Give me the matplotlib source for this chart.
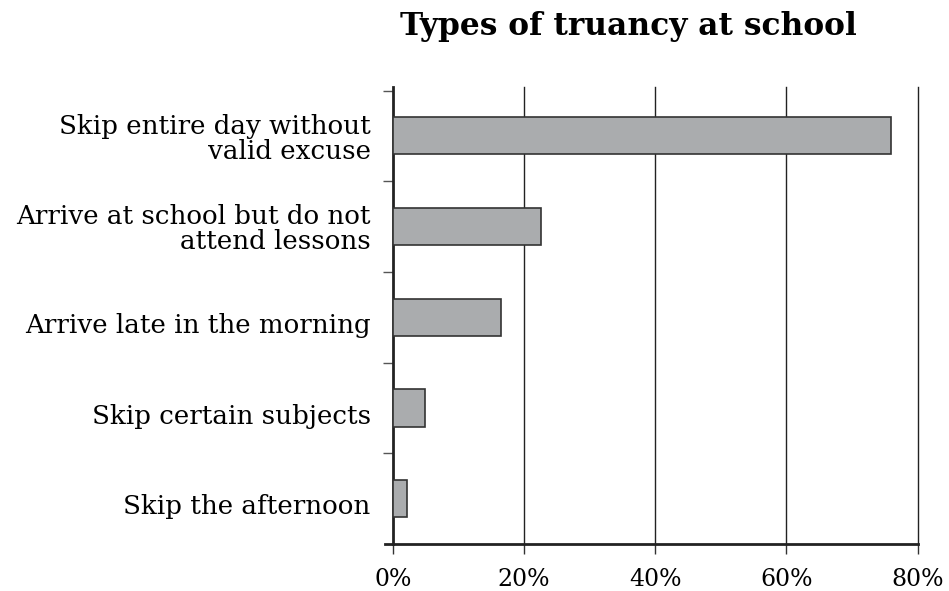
import matplotlib
matplotlib.use("Agg")
import matplotlib.pyplot as plt
import numpy as np

categories = ["Skip entire day without\nvalid excuse",
              "Arrive at school but do not\nattend lessons",
              "Arrive late in the morning",
              "Skip certain subjects",
              "Skip the afternoon"]
values = [76.0, 22.6, 16.5, 4.9, 2.2]
xticks = [0, 20, 40, 60, 80]
xticklabels = ["0%", "20%", "40%", "60%", "80%"]

plt.rcParams['font.family'] = ['DejaVu Serif']

fig = plt.figure(figsize=(9.49, 5.91), dpi=100)
ax = fig.add_axes([0.414, 0.0795, 0.553, 0.7735])

ypos = np.arange(len(categories))[::-1]
ax.barh(ypos, values, height=0.41, color='#aaacae', edgecolor='#333333', linewidth=1.2, zorder=3)

ax.set_xlim(0, 80)
ax.set_ylim(-0.5, 4.54)

ax.set_xticks(xticks)
ax.set_xticklabels(xticklabels, fontsize=17)
for xv in xticks[1:]:
    ax.axvline(xv, color='#222222', linewidth=1.0, zorder=1, clip_on=False)
ax.tick_params(axis='x', length=7, width=1, color='#333333', pad=10.5)

# category labels as text, ticks at band boundaries
ax.set_yticks([0.5, 1.5, 2.5, 3.5, 4.5])
ax.set_yticklabels([])
ax.tick_params(axis='y', length=7, width=1, color='#555555')
for y, lab in zip(ypos, categories):
    dy = -2 if '\n' in lab else -6
    ax.annotate(lab, xy=(0, y), xycoords='data', xytext=(-16, dy), textcoords='offset points',
                ha='right', va='center', fontsize=18.8, linespacing=1.0)

for s in ['top', 'right']:
    ax.spines[s].set_visible(False)
for s in ['left', 'bottom']:
    ax.spines[s].set_linewidth(2)
    ax.spines[s].set_color('#222222')
ax.spines['bottom'].set_bounds(-1.2, 80)

fig.text(0.662, 0.941, "Types of truancy at school", ha='center', va='baseline',
         fontsize=22.5, fontweight='bold')

plt.savefig('out.png', dpi=100)
